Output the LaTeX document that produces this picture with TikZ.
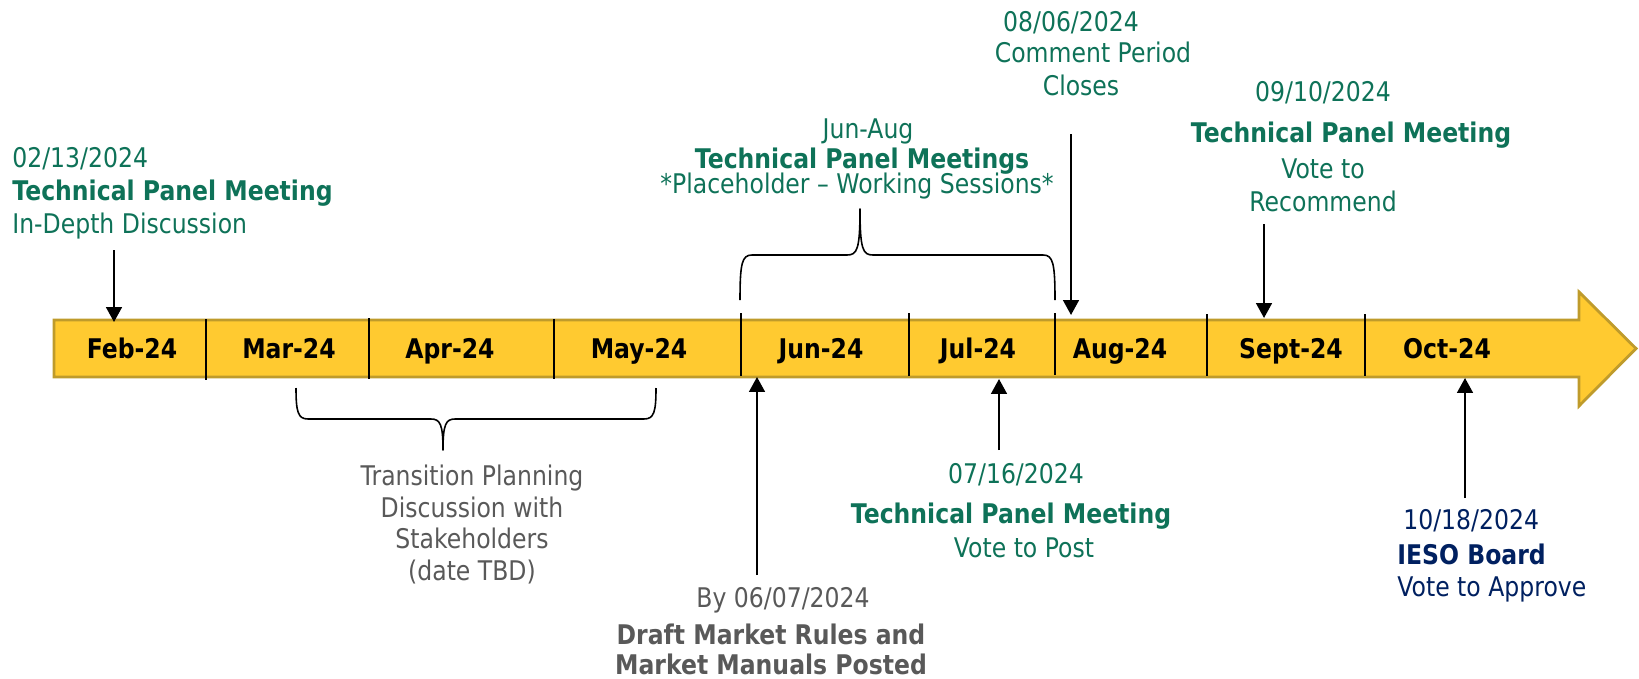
\documentclass[tikz,border=0pt]{standalone}
\usepackage{fontspec}
\setmainfont{DejaVu Sans}[FakeStretch=0.87]
\usetikzlibrary{arrows.meta}
\definecolor{tpgreen}{RGB}{14,114,88}
\definecolor{iesonavy}{RGB}{0,32,96}
\definecolor{notegray}{RGB}{89,89,89}
\definecolor{barfill}{RGB}{255,202,48}
\definecolor{baredge}{RGB}{191,155,43}
\tikzset{
	evtxt/.style={font=\fontsize{15.4}{18}\selectfont, inner sep=0pt, anchor=base, text=#1},
	evtxt/.default=tpgreen,
	evbold/.style={evtxt=#1, font=\bfseries\fontsize{15.4}{18}\selectfont},
	evbold/.default=tpgreen,
	mon/.style={font=\bfseries\fontsize{15.4}{18}\selectfont, inner sep=0pt, anchor=base},
	evarrow/.style={-{Triangle[length=8.5pt, width=9pt]}, line width=1.2pt},
	divider/.style={line width=0.7pt},
	bracket/.style={line width=0.9pt, line join=round},
}

\begin{document}
\begin{tikzpicture}[x=0.02cm, y=-0.02cm]
		\useasboundingbox (0,0) rectangle (1639,679);
		\filldraw[fill=barfill, draw=baredge, line width=1.6pt, line join=miter]
			(54,320) -- (1579,320) -- (1579,292) -- (1636,348.5) -- (1579,406) -- (1579,377) -- (54,377) -- cycle;
		\draw[divider] (206,319) -- (206,380);
		\draw[divider] (369,318) -- (369,379);
		\draw[divider] (554,319) -- (554,379);
		\draw[divider] (741,313) -- (741,376);
		\draw[divider] (909,313) -- (909,376);
		\draw[divider] (1055,313) -- (1055,375);
		\draw[divider] (1207,314) -- (1207,376);
		\draw[divider] (1365,314) -- (1365,376);

		\node[mon] (feb) at (132,358) {Feb-24};
		\node[mon] (mar) at (289,358) {Mar-24};
		\node[mon] (apr) at (450,358) {Apr-24};
		\node[mon] (may) at (639,358) {May-24};
		\node[mon] (jun) at (821,358) {Jun-24};
		\node[mon] (jul) at (978,358) {Jul-24};
		\node[mon] (aug) at (1120,358) {Aug-24};
		\node[mon] (sep) at (1291,358) {Sept-24};
		\node[mon] (oct) at (1447,358) {Oct-24};

		\node[evtxt, anchor=base west] (febDate) at (12,167) {02/13/2024};
		\node[evbold, anchor=base west] (febHead) at (12,200) {Technical Panel Meeting};
		\node[evtxt, anchor=base west] (febNote) at (12,233) {In-Depth Discussion};
		\coordinate (febFrom) at (114,250);
		\coordinate (febTo) at (114,322);
		\draw[evarrow] (febFrom) -- (febTo);

		\node[evtxt] (tpmDate) at (868,138) {Jun-Aug};
		\node[evbold] (tpmHead) at (862,168) {Technical Panel Meetings};
		\node[evtxt] (tpmNote) at (857,193) {*Placeholder – Working Sessions*};
		\draw[bracket] (740,300) .. controls (740,263) and (742,255) .. (752,255) -- (847,255)
			.. controls (857,255) and (860,250) .. (860,209)
			.. controls (860,250) and (863,255) .. (873,255) -- (1043,255)
			.. controls (1053,255) and (1055,263) .. (1055,300);

		\node[evtxt] (cmtDate) at (1071,32) {08/06/2024};
		\node[evtxt] (cmtNote) at (1093,63) {Comment Period};
		\node[evtxt] (cmtNoteB) at (1081,95) {Closes};
		\coordinate (cmtFrom) at (1071,134);
		\coordinate (cmtTo) at (1071,315);
		\draw[evarrow] (cmtFrom) -- (cmtTo);

		\node[evtxt] (recDate) at (1323,102) {09/10/2024};
		\node[evbold] (recHead) at (1351,142) {Technical Panel Meeting};
		\node[evtxt] (recNote) at (1323,178) {Vote to};
		\node[evtxt] (recNoteB) at (1323,211) {Recommend};
		\coordinate (recFrom) at (1264,224);
		\coordinate (recTo) at (1264,318);
		\draw[evarrow] (recFrom) -- (recTo);

		\draw[bracket] (296,388) .. controls (296,412) and (298,419) .. (308,419) -- (431,419)
			.. controls (440,419) and (443,424) .. (443,450)
			.. controls (443,424) and (446,419) .. (455,419) -- (644,419)
			.. controls (654,419) and (656,412) .. (656,388);
		\node[evtxt=notegray] (trnA) at (472,485) {Transition Planning};
		\node[evtxt=notegray] (trnB) at (472,517) {Discussion with};
		\node[evtxt=notegray] (trnC) at (472,548) {Stakeholders};
		\node[evtxt=notegray] (trnD) at (472,580) {(date TBD)};

		\node[evtxt=notegray] (postDate) at (783,607) {By 06/07/2024};
		\node[evbold=notegray] (postHead) at (771,644) {Draft Market Rules and};
		\node[evbold=notegray] (postHeadB) at (771,674) {Market Manuals Posted};
		\coordinate (postFrom) at (757,575);
		\coordinate (postTo) at (757,377);
		\draw[evarrow] (postFrom) -- (postTo);

		\node[evtxt] (voteDate) at (1016,483) {07/16/2024};
		\node[evbold] (voteHead) at (1011,523) {Technical Panel Meeting};
		\node[evtxt] (voteNote) at (1024,557) {Vote to Post};
		\coordinate (voteFrom) at (999,450);
		\coordinate (voteTo) at (999,379);
		\draw[evarrow] (voteFrom) -- (voteTo);

		\node[evtxt=iesonavy, anchor=base west] (brdDate) at (1403,529) {10/18/2024};
		\node[evbold=iesonavy, anchor=base west] (brdHead) at (1397,564) {IESO Board};
		\node[evtxt=iesonavy, anchor=base west] (brdNote) at (1397,596) {Vote to Approve};
		\coordinate (brdFrom) at (1465,498);
		\coordinate (brdTo) at (1465,378);
		\draw[evarrow] (brdFrom) -- (brdTo);
\end{tikzpicture}
\end{document}
